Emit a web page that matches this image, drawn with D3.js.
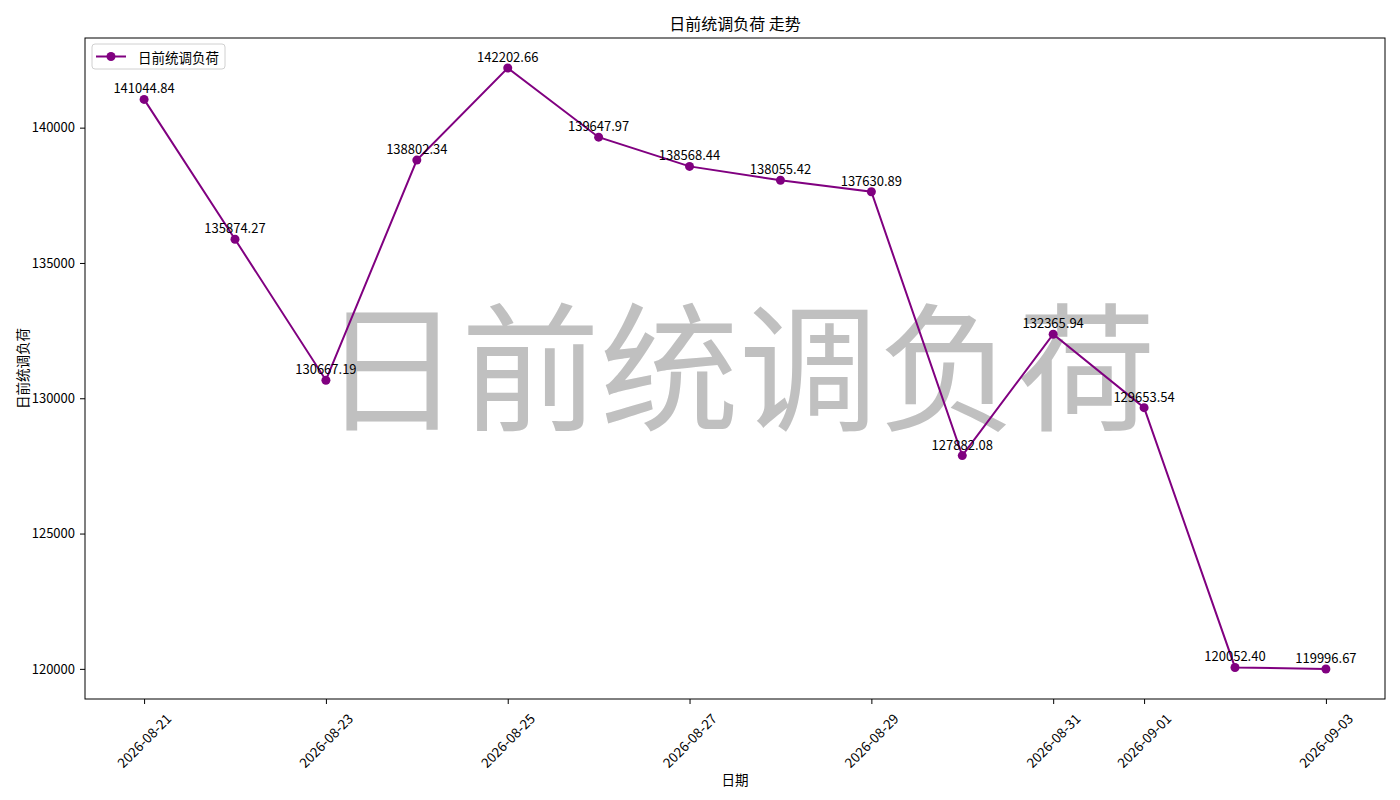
<!DOCTYPE html>
<html>
<head>
<meta charset="utf-8">
<script src="https://cdn.jsdelivr.net/npm/d3@7"></script>
<style>
  body { margin: 0; background: #fff; }
  svg text { font-family: "Noto Sans CJK SC", "Noto Sans", sans-serif; fill: #000; }
</style>
</head>
<body>
<svg id="chart" width="1400" height="800"></svg>
<script>
// data
var dates = ['2026-08-21', '2026-08-22', '2026-08-23', '2026-08-24', '2026-08-25',
  '2026-08-26', '2026-08-27', '2026-08-28', '2026-08-29', '2026-08-30',
  '2026-08-31', '2026-09-01', '2026-09-02', '2026-09-03'];
var loads = [141044.84, 135874.27, 130667.19, 138802.34, 142202.66,
  139647.97, 138568.44, 138055.42, 137630.89, 127882.08,
  132365.94, 129653.54, 120052.40, 119996.67];
var xTickLabels = ['2026-08-21', '2026-08-23', '2026-08-25', '2026-08-27',
  '2026-08-29', '2026-08-31', '2026-09-01', '2026-09-03'];
var yTickValues = [120000, 125000, 130000, 135000, 140000];

var seriesName = '日前统调负荷';
var color = 'purple';

var margin = {top: 38, right: 15, bottom: 101, left: 85};
var svg = d3.select('#chart');
var width = 1400 - margin.left - margin.right;
var height = 800 - margin.top - margin.bottom;

var parse = d3.utcParse('%Y-%m-%d');
var data = dates.map(function(d, i) { return {date: parse(d), value: loads[i]}; });

// matplotlib style 5% margins
var xExt = d3.extent(data, function(d) { return d.date; });
var xPad = (xExt[1] - xExt[0]) * 0.05;
var x = d3.scaleUtc()
  .domain([new Date(+xExt[0] - xPad), new Date(+xExt[1] + xPad)])
  .range([0, width]);

var yExt = d3.extent(data, function(d) { return d.value; });
var yPad = (yExt[1] - yExt[0]) * 0.05;
var y = d3.scaleLinear()
  .domain([yExt[0] - yPad, yExt[1] + yPad])
  .range([height, 0]);

var g = svg.append('g')
  .attr('transform', 'translate(' + margin.left + ',' + margin.top + ')');

// watermark
g.append('text')
  .attr('x', width / 2 + 4)
  .attr('y', height / 2 - 9)
  .attr('text-anchor', 'middle')
  .attr('dominant-baseline', 'central')
  .style('font-size', '139px')
  .style('fill', '#c0c0c0')
  .text(seriesName);

// axes
var xAxis = d3.axisBottom(x)
  .tickValues(xTickLabels.map(parse))
  .tickFormat(d3.utcFormat('%Y-%m-%d'))
  .tickSizeOuter(0)
  .tickSize(5)
  .tickPadding(5);

var gx = g.append('g')
  .attr('transform', 'translate(0,' + height + ')')
  .call(xAxis);

gx.selectAll('.tick text')
  .attr('y', 0)
  .attr('dy', null)
  .attr('text-anchor', 'middle')
  .attr('dominant-baseline', 'central')
  .attr('transform', 'translate(-1,41) rotate(-45)')
  .style('font-size', '13.5px');

var yAxis = d3.axisLeft(y)
  .tickValues(yTickValues)
  .tickFormat(d3.format('d'))
  .tickSizeOuter(0)
  .tickSize(5)
  .tickPadding(5);

var gy = g.append('g').call(yAxis);
gy.selectAll('.tick text').style('font-size', '13px');

[gx, gy].forEach(function(a) {
  a.selectAll('.domain').remove();
  a.selectAll('.tick line').attr('stroke', '#000');
});

// frame
g.append('rect')
  .attr('width', width)
  .attr('height', height)
  .attr('fill', 'none')
  .attr('stroke', '#000')
  .attr('stroke-width', 1);

// line
var line = d3.line()
  .x(function(d) { return x(d.date); })
  .y(function(d) { return y(d.value); });

g.append('path')
  .datum(data)
  .attr('fill', 'none')
  .attr('stroke', color)
  .attr('stroke-width', 2)
  .attr('d', line);

g.selectAll('.dot')
  .data(data)
  .enter()
  .append('circle')
  .attr('class', 'dot')
  .attr('cx', function(d) { return x(d.date); })
  .attr('cy', function(d) { return y(d.value); })
  .attr('r', 4.5)
  .attr('fill', color);

// value labels
g.selectAll('.val')
  .data(data)
  .enter()
  .append('text')
  .attr('class', 'val')
  .attr('x', function(d) { return x(d.date); })
  .attr('y', function(d) { return y(d.value) - 6; })
  .attr('text-anchor', 'middle')
  .style('font-size', '13px')
  .text(function(d) { return d3.format('.2f')(d.value); });

// legend
var legend = g.append('g').attr('transform', 'translate(7,6)');
legend.append('rect')
  .attr('width', 133)
  .attr('height', 25)
  .attr('rx', 3)
  .attr('fill', '#fff')
  .attr('fill-opacity', 0.8)
  .attr('stroke', '#d0d0d0');
legend.append('line')
  .attr('x1', 4).attr('x2', 34)
  .attr('y1', 12.5).attr('y2', 12.5)
  .attr('stroke', color)
  .attr('stroke-width', 2);
legend.append('circle')
  .attr('cx', 19).attr('cy', 12.5).attr('r', 4.5)
  .attr('fill', color);
legend.append('text')
  .attr('x', 46).attr('y', 12.5)
  .attr('dominant-baseline', 'central')
  .style('font-size', '13.5px')
  .text(seriesName);

// titles
svg.append('text')
  .attr('x', margin.left + width / 2)
  .attr('y', 23)
  .attr('text-anchor', 'middle')
  .attr('dominant-baseline', 'central')
  .style('font-size', '16px')
  .text(seriesName + ' 走势');

svg.append('text')
  .attr('x', margin.left + width / 2)
  .attr('y', 779)
  .attr('text-anchor', 'middle')
  .attr('dominant-baseline', 'central')
  .style('font-size', '13.5px')
  .text('日期');

svg.append('text')
  .attr('transform', 'translate(22,' + (margin.top + height / 2) + ') rotate(-90)')
  .attr('text-anchor', 'middle')
  .attr('dominant-baseline', 'central')
  .style('font-size', '13.5px')
  .text(seriesName);
</script>
</body>
</html>
